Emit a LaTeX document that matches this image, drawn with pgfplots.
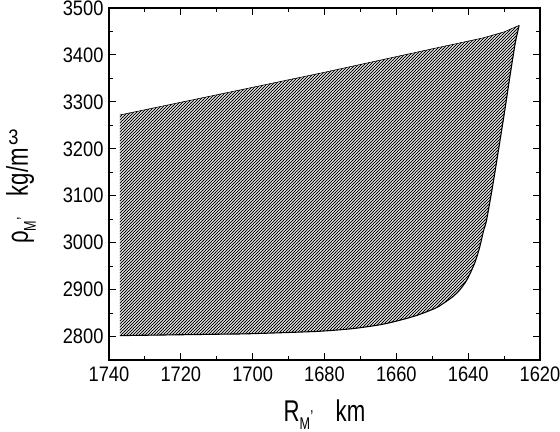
\documentclass[border=0pt]{standalone}
\usepackage{fontspec}
\setmainfont{Liberation Sans}[FakeStretch=0.87]
\newfontfamily\labfont{Liberation Sans}[FakeStretch=0.74]
\usepackage{pgfplots}
\pgfplotsset{compat=1.18}
\usetikzlibrary{patterns.meta}
\begin{document}
\begin{tikzpicture}
\begin{axis}[
  at={(0,0)}, anchor=south west,
  scale only axis, width=431bp, height=352bp,
  x dir=reverse, xmin=1620, xmax=1740, ymin=2750, ymax=3500,
  xtick={1620,1640,...,1740}, ytick={2800,2900,...,3500},
  minor x tick num=1, minor y tick num=1,
  tick align=inside,
  major tick length=7bp, minor tick length=4bp,
  every tick/.style={black, line width=0.9bp},
  axis line style={line width=1.6bp},
  /pgf/number format/1000 sep={},
  /pgf/number format/assume math mode=true,
  tick label style={font=\fontsize{21bp}{25bp}\selectfont},
  xticklabel style={yshift=-3bp},
  yticklabel style={xshift=-2bp},
  xlabel={\labfont\fontsize{30bp}{34bp}\selectfont R\raisebox{-8bp}{\fontsize{17bp}{17bp}\selectfont M}\raisebox{9bp}{\fontsize{17bp}{17bp}\selectfont ,}\rule{22bp}{0pt}km},
  ylabel={\labfont\fontsize{30bp}{34bp}\selectfont ρ\raisebox{-8bp}{\fontsize{17bp}{17bp}\selectfont M}\raisebox{9bp}{\fontsize{17bp}{17bp}\selectfont ,}\rule{21bp}{0pt}kg/m},
  xlabel style={at={(axis description cs:0.5,-0.175)}, anchor=base},
  ylabel style={at={(axis description cs:-0.188,0.466)}, anchor=base},
]
\addplot[draw=none, pattern={Lines[angle=45,distance=2.1213bp,line width=1.05bp]}] coordinates {
(1737,3272) (1710,3315) (1680,3363) (1650,3413) (1636,3436) (1630,3449) (1625.8,3463)
(1626.9,3425) (1628.4,3353) (1629.8,3282) (1631.5,3200) (1633.2,3120) (1634.9,3047) (1635.7,3026) (1636.8,2990) (1638.2,2956) (1640.4,2920) (1642.5,2898) (1644.6,2883) (1648.7,2862) (1654.3,2845) (1659.9,2833) (1664.6,2825) (1672,2817) (1682,2811) (1700.7,2806) (1709,2805) (1737,2802)
} -- cycle;
\addplot[black, line width=0.6bp] coordinates {
(1737,3272) (1710,3315) (1680,3363) (1650,3413) (1636,3436) (1630,3449) (1625.8,3463)
};
\addplot[black, line width=1.1bp, smooth, tension=0.4] coordinates {
(1625.8,3463) (1626.9,3425) (1628.4,3353) (1629.8,3282) (1631.5,3200) (1633.2,3120) (1634.9,3047) (1635.7,3026) (1636.8,2990) (1638.2,2956) (1640.4,2920) (1642.5,2898) (1644.6,2883) (1648.7,2862) (1654.3,2845) (1659.9,2833) (1664.6,2825) (1672,2817) (1682,2811) (1700.7,2806) (1709,2805) (1737,2802)
};
\end{axis}
\node[font=\fontsize{21bp}{21bp}\selectfont, inner sep=0pt, anchor=center] at (-95.5bp,222.5bp) {3};
\pgfresetboundingbox
\path[use as bounding box] (-109bp,-72bp) rectangle (451bp,360bp);
\end{tikzpicture}
\end{document}
